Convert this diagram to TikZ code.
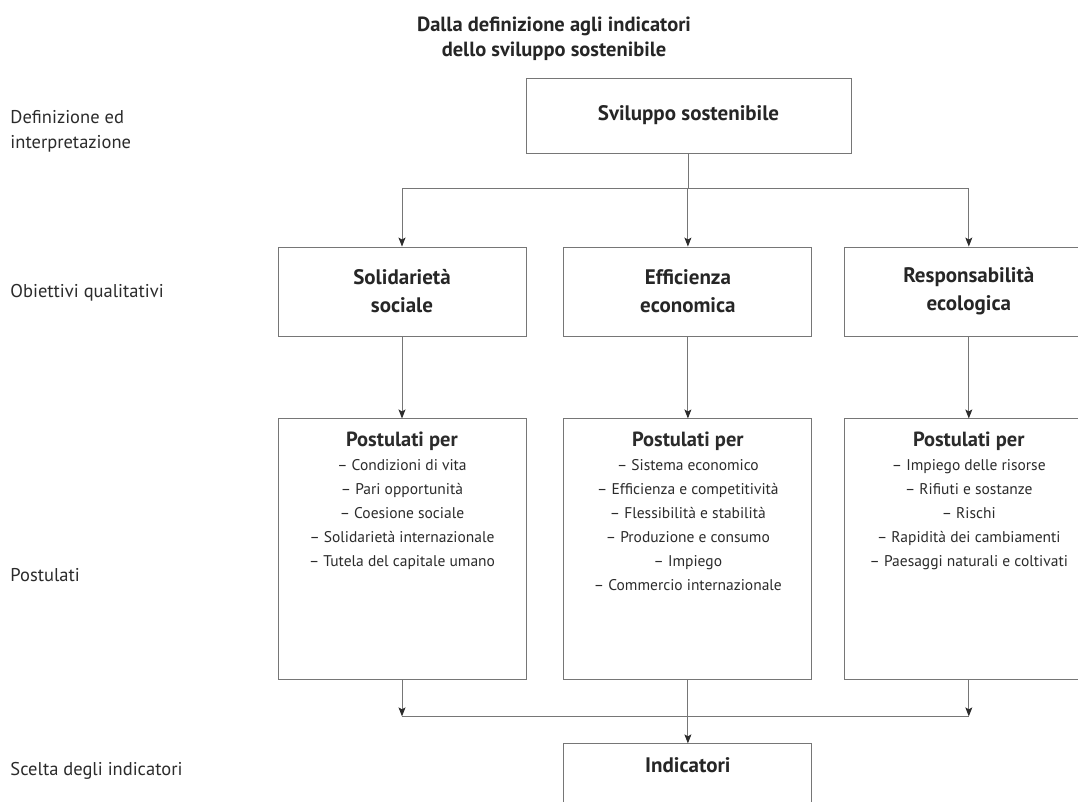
\documentclass[tikz,border=0pt]{standalone}
\usepackage{fontspec}
\setmainfont{PT Sans}
\setsansfont{PT Sans}
\usetikzlibrary{arrows.meta, positioning}
\definecolor{cline}{HTML}{767676}
\definecolor{ctext}{HTML}{2B2B2B}
\definecolor{chead}{HTML}{262626}
\tikzset{
  every picture/.style={font=\sffamily, line width=0.9pt},
  box/.style={draw=cline, fill=white, align=center, inner sep=4pt, text=chead},
  head/.style={font=\sffamily\bfseries\fontsize{21}{28}\selectfont, text=chead, align=center},
  listing/.style={font=\sffamily\fontsize{15.5}{24}\selectfont, text=ctext, align=center},
  side/.style={font=\sffamily\fontsize{18.5}{25}\selectfont, text=ctext, align=left, anchor=west, inner sep=0pt},
  line/.style={draw=cline},
  arrow/.style={draw=cline, -{Stealth[length=9pt, width=7pt, inset=2pt, color=ctext]}},
}

\begin{document}
\begin{tikzpicture}[node distance=37pt,
  goalbox/.style={box, minimum width=248pt, minimum height=89pt, head},
  postbox/.style={box, minimum width=248pt, minimum height=261pt}]
  \useasboundingbox (0pt,0pt) rectangle (1078pt,-801pt);
  \clip (0pt,0pt) rectangle (1078pt,-801pt);
  % title and row labels
  \node[head, font=\sffamily\bfseries\fontsize{20.5}{25}\selectfont] (title) at (554pt,-39pt) {Dalla definizione agli indicatori\\dello sviluppo sostenibile};
  \node[side] (lab1) at (10pt,-131pt) {Definizione ed\\interpretazione};
  \node[side] (lab2) at (10pt,-293pt) {Obiettivi qualitativi};
  \node[side] (lab3) at (10pt,-575pt) {Postulati};
  \node[side] (lab4) at (10pt,-771pt) {Scelta degli indicatori};
  % boxes
  \node[box, head, minimum width=325pt, minimum height=75pt] (svil) at (688.5pt,-115.5pt) {Sviluppo sostenibile};
  \node[goalbox] (sol) at (402pt,-291.5pt) {Solidarietà\\sociale};
  \node[goalbox, right=of sol] (eff) {Efficienza\\economica};
  \node[goalbox, right=32pt of eff] (resp) {Responsabilità\\ecologica};
  \node[postbox, below=82pt of sol] (psol) {};
  \node[postbox, below=82pt of eff] (peff) {};
  \node[postbox, below=82pt of resp] (presp) {};
  \node[goalbox, below=63pt of peff] (ind) {};
  \node[head, below=10pt of ind.north] (indt) {Indicatori};
  % lists
  \node[listing, below=10pt of psol.north] (lsol) {{\bfseries\fontsize{20.5}{24}\selectfont Postulati per}\\
    – Condizioni di vita\\– Pari opportunità\\– Coesione sociale\\– Solidarietà internazionale\\– Tutela del capitale umano};
  \node[listing, below=10pt of peff.north] (leff) {{\bfseries\fontsize{20.5}{24}\selectfont Postulati per}\\
    – Sistema economico\\– Efficienza e competitività\\– Flessibilità e stabilità\\– Produzione e consumo\\– Impiego\\– Commercio internazionale};
  \node[listing, below=10pt of presp.north] (lresp) {{\bfseries\fontsize{20.5}{24}\selectfont Postulati per}\\
    – Impiego delle risorse\\– Rifiuti e sostanze\\– Rischi\\– Rapidità dei cambiamenti\\– Paesaggi naturali e coltivati};
  % connectors
  \draw[line] (svil.south) -- ++(0,-35pt) coordinate (fork);
  \draw[line] (fork -| sol.north) -- (fork -| resp.north);
  \foreach \n in {sol,eff,resp}
    \draw[arrow] (fork -| \n.north) -- (\n.north);
  \foreach \a/\b in {sol/psol,eff/peff,resp/presp}
    \draw[arrow] (\a) -- (\b);
  \path (peff.south) -- ++(0,-36pt) coordinate (join);
  \draw[line] (join -| psol.south) -- (join -| presp.south);
  \draw[arrow] (psol.south) -- (psol.south |- join);
  \draw[arrow] (presp.south) -- (presp.south |- join);
  \draw[arrow] (peff) -- (ind);
\end{tikzpicture}
\end{document}
